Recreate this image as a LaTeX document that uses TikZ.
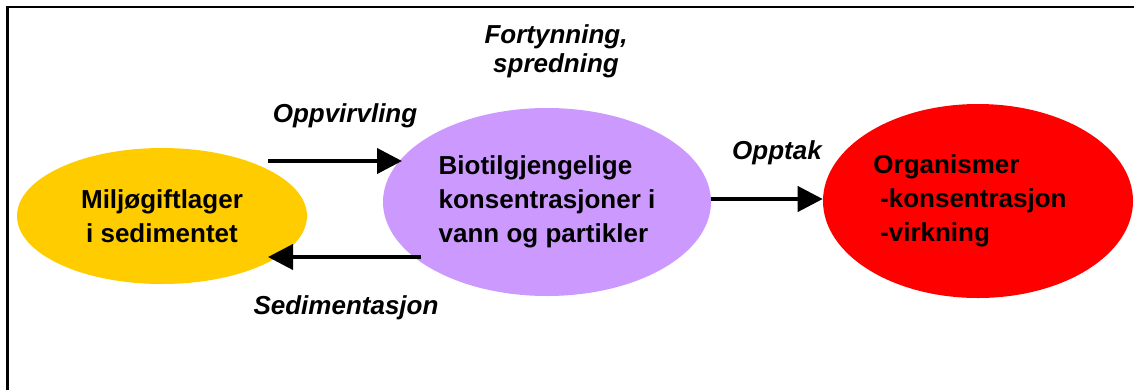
\documentclass[tikz,border=0pt]{standalone}
\usepackage{fontspec}
\setmainfont{Liberation Sans}
\usetikzlibrary{shapes.geometric,arrows.meta}
\definecolor{cyellow}{HTML}{FFCC00}
\definecolor{cpurple}{HTML}{CC99FF}
\definecolor{cred}{HTML}{FF0000}
\begin{document}
\begin{tikzpicture}[x=0.75pt,y=-0.75pt,
  blob/.style={ellipse,inner sep=0pt,draw=none,
    font=\fontsize{19.5pt}{25.5pt}\selectfont\bfseries},
  lbl/.style={inner sep=0pt,align=center,
    font=\fontsize{19.5pt}{22pt}\selectfont\bfseries\itshape},
  arr/.style={line width=3pt,-{Triangle[length=18.75pt,width=18.75pt]}}]
\useasboundingbox (0,0) rectangle (1134,390);
% frame
\draw[line width=1.8pt] (7.5,390) -- (7.5,7) -- (1134,7);
% ellipses
\node[blob,fill=cyellow,minimum width=217.5pt,minimum height=102pt,align=center]
  (yel) at (162,216) {Miljøgiftlager\\i sedimentet};
\node[blob,fill=cpurple,minimum width=246pt,minimum height=141pt,align=left]
  (bio) at (547,202) {Biotilgjengelige\\konsentrasjoner i\\vann og partikler};
\node[blob,fill=cred,minimum width=232.5pt,minimum height=145.5pt,align=left]
  (org) at (978,201) {Organismer\\\kern5pt-konsentrasjon\kern12pt\\\kern5pt-virkning};
% arrows
\coordinate (up1) at (268,161);
\coordinate (up2) at (402,161);
\coordinate (dn1) at (421,257);
\coordinate (dn2) at (268,257);
\draw[arr] (up1) -- (up2);
\draw[arr] (dn1) -- (dn2);
\draw[arr] (bio.east |- 0,199) -- (org.west |- 0,199);
% labels
\node[lbl] (lup) at (345,116) {Oppvirvling};
\node[lbl] (ldn) at (346,308) {Sedimentasjon};
\node[lbl] (lopp) at (777,153) {Opptak};
\node[lbl] (lfort) at (556,51) {Fortynning,\\spredning};
\end{tikzpicture}
\end{document}
